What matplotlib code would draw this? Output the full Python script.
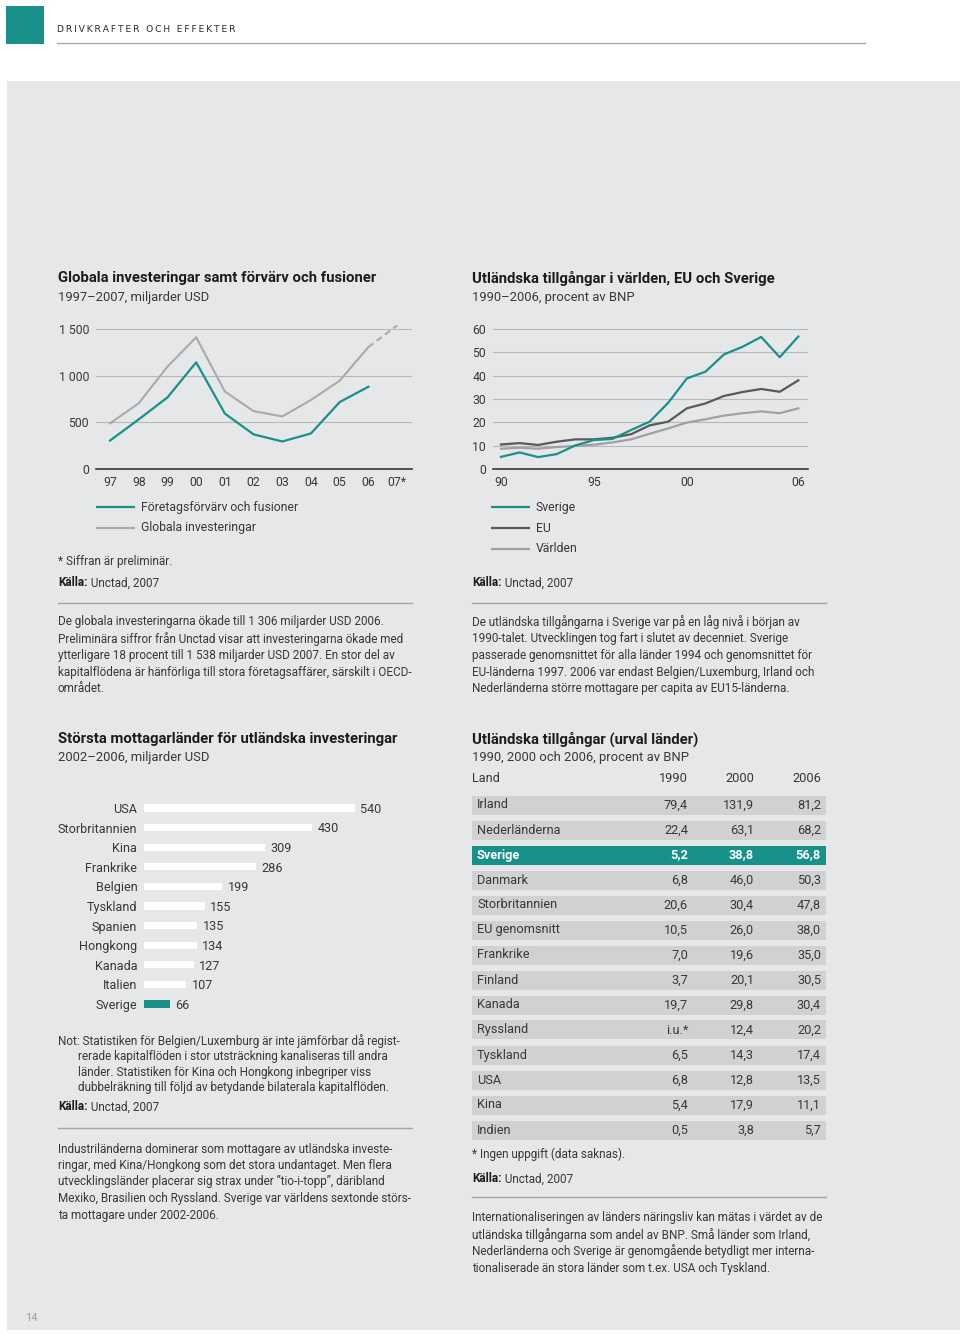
"""Page 14 - Drivkrafter och effekter: FDI charts and table."""
import matplotlib
matplotlib.use("Agg")
import matplotlib.pyplot as plt
from matplotlib.patches import Rectangle

W, H = 960, 1334
TEAL = "#18918a"
PANEL = "#e6e7e8"
STRIPE = "#d0d1d3"
GRID = "#b7b8ba"
AXIS = "#3a3a3a"
TXT = "#383838"
DARK = "#1c1c1c"
GRAY_L = "#a9aaac"
GRAY_EU = "#58595b"
GRAY_W = "#a0a1a3"
SEP = "#a3a4a6"

plt.rcParams["font.family"] = ["Roboto", "DejaVu Sans"]

BODY = 8.5
TICK = 8.8
LEG = 8.8
SUB = 9.4
TAB = 9.2
BARLAB = 9.1
TITLE = 10.7

# --- data -------------------------------------------------------------
fdi_years = ["97", "98", "99", "00", "01", "02", "03", "04", "05", "06", "07*"]
global_inv = [489, 705, 1097, 1411, 830, 620, 563, 740, 946, 1306]
global_inv_prelim = [1306, 1538]          # 06 -> 07* (preliminary)
mergers = [305, 532, 767, 1143, 594, 371, 295, 381, 717, 881]

asset_years = list(range(1990, 2007))
sverige = [5.2, 7.1, 5.1, 6.4, 10.1, 12.4, 12.9, 16.7, 20.3, 28.4, 38.8,
           41.7, 49.1, 52.4, 56.6, 47.9, 56.8]
eu = [10.5, 11.1, 10.3, 11.7, 12.7, 12.7, 13.4, 14.9, 18.7, 20.3, 26.0,
      28.1, 31.3, 33.0, 34.3, 33.1, 38.0]
varlden = [8.7, 9.1, 8.7, 9.4, 9.9, 10.4, 11.4, 12.7, 15.1, 17.4, 19.9,
           21.3, 22.9, 23.9, 24.7, 23.9, 26.0]

recv_countries = ["USA", "Storbritannien", "Kina", "Frankrike", "Belgien",
                  "Tyskland", "Spanien", "Hongkong", "Kanada", "Italien",
                  "Sverige"]
recv_values = [540, 430, 309, 286, 199, 155, 135, 134, 127, 107, 66]

tab_cols = ["1990", "2000", "2006"]
tab_countries = ["Irland", "Nederländerna", "Sverige", "Danmark",
                 "Storbritannien", "EU genomsnitt", "Frankrike", "Finland",
                 "Kanada", "Ryssland", "Tyskland", "USA", "Kina", "Indien"]
tab_1990 = ["79,4", "22,4", "5,2", "6,8", "20,6", "10,5", "7,0", "3,7",
            "19,7", "i.u.*", "6,5", "6,8", "5,4", "0,5"]
tab_2000 = ["131,9", "63,1", "38,8", "46,0", "30,4", "26,0", "19,6", "20,1",
            "29,8", "12,4", "14,3", "12,8", "17,9", "3,8"]
tab_2006 = ["81,2", "68,2", "56,8", "50,3", "47,8", "38,0", "35,0", "30,5",
            "30,4", "20,2", "17,4", "13,5", "11,1", "5,7"]

para_fdi = [
    "De globala investeringarna ökade till 1 306 miljarder USD 2006.",
    "Preliminära siffror från Unctad visar att investeringarna ökade med",
    "ytterligare 18 procent till 1 538 miljarder USD 2007. En stor del av",
    "kapitalflödena är hänförliga till stora företagsaffärer, särskilt i OECD-",
    "området.",
]
para_assets = [
    "De utländska tillgångarna i Sverige var på en låg nivå i början av",
    "1990-talet. Utvecklingen tog fart i slutet av decenniet. Sverige",
    "passerade genomsnittet för alla länder 1994 och genomsnittet för",
    "EU-länderna 1997. 2006 var endast Belgien/Luxemburg, Irland och",
    "Nederländerna större mottagare per capita av EU15-länderna.",
]
note_recv = [
    "rerade kapitalflöden i stor utsträckning kanaliseras till andra",
    "länder. Statistiken för Kina och Hongkong inbegriper viss",
    "dubbelräkning till följd av betydande bilaterala kapitalflöden.",
]
para_recv = [
    "Industriländerna dominerar som mottagare av utländska investe-",
    "ringar, med Kina/Hongkong som det stora undantaget. Men flera",
    "utvecklingsländer placerar sig strax under \u201dtio-i-topp\u201d, däribland",
    "Mexiko, Brasilien och Ryssland. Sverige var världens sextonde störs-",
    "ta mottagare under 2002-2006.",
]
para_table = [
    "Internationaliseringen av länders näringsliv kan mätas i värdet av de",
    "utländska tillgångarna som andel av BNP. Små länder som Irland,",
    "Nederländerna och Sverige är genomgående betydligt mer interna-",
    "tionaliserade än stora länder som t.ex. USA och Tyskland.",
]


def rect(l, t, r, b):
    return [l / W, 1 - b / H, (r - l) / W, (b - t) / H]


fig = plt.figure(figsize=(W / 100, H / 100), dpi=100)
pg = fig.add_axes([0, 0, 1, 1])
pg.set_xlim(0, W); pg.set_ylim(H, 0); pg.axis("off")


def txt(x, y, s, size=BODY, color=TXT, **kw):
    return pg.text(x, y, s, fontsize=size, color=color, va="center", **kw)


def kalla(x, y):
    t = txt(x, y, "Källa:", fontweight="bold", color=DARK)
    pg.annotate(" Unctad, 2007", xy=(1, 0), xycoords=t, va="bottom",
                fontsize=BODY, color=TXT)


def para(x, y0, lines, step=16.7):
    for i, s in enumerate(lines):
        txt(x, y0 + i * step, s)


def sep(x0, x1, y):
    pg.plot([x0, x1], [y, y], color=SEP, lw=1.0)


def legend_line(x, y, color, label):
    pg.plot([x, x + 39], [y, y], color=color, lw=1.6, solid_capstyle="butt")
    txt(x + 45, y, label, size=LEG)


# page furniture
pg.add_patch(Rectangle((7, 81), W - 7, 1249, color=PANEL, lw=0))
pg.add_patch(Rectangle((6, 6), 38, 38, color=TEAL, lw=0))
pg.plot([57, 865], [43, 43], color="#a9a9a9", lw=1.0)
pg.text(57, 30, "\u2009".join("DRIVKRAFTER OCH EFFEKTER"), fontsize=6.6,
        family=["DejaVu Sans"], color="#2a2a2a", va="center")
pg.text(25, 1318, "14", fontsize=8, color="#a0a0a0", va="center")

# titles
txt(58, 278, "Globala investeringar samt förvärv och fusioner", size=TITLE,
    fontweight="bold", color=DARK)
txt(58, 298, "1997\u20132007, miljarder USD", size=SUB)
txt(472, 278, "Utländska tillgångar i världen, EU och Sverige", size=TITLE,
    fontweight="bold", color=DARK)
txt(472, 298, "1990\u20132006, procent av BNP", size=SUB)
txt(58, 739, "Största mottagarländer för utländska investeringar", size=TITLE,
    fontweight="bold", color=DARK)
txt(58, 758, "2002\u20132006, miljarder USD", size=SUB)
txt(472, 739, "Utländska tillgångar (urval länder)", size=TITLE,
    fontweight="bold", color=DARK)
txt(472, 758, "1990, 2000 och 2006, procent av BNP", size=SUB)

# legends, notes, sources, paragraphs
legend_line(96, 507, TEAL, "Företagsförvärv och fusioner")
legend_line(96, 528, GRAY_L, "Globala investeringar")
txt(58, 562, "* Siffran är preliminär.")
kalla(58, 583)
sep(58, 412, 603)
para(58, 622, para_fdi)

legend_line(491, 507, TEAL, "Sverige")
legend_line(491, 528, GRAY_EU, "EU")
legend_line(491, 549, GRAY_W, "Världen")
kalla(472, 583)
sep(472, 826, 603)
para(472, 622, para_assets)

txt(58, 1041, "Not: Statistiken för Belgien/Luxemburg är inte jämförbar då regist-")
para(78, 1056.7, note_recv, step=15.6)
kalla(58, 1107)
sep(58, 412, 1128)
para(58, 1149, para_recv, step=16.5)

txt(472, 1154, "* Ingen uppgift (data saknas).")
kalla(472, 1179)
sep(472, 826, 1197)
para(472, 1218, para_table, step=16.7)


def style_line_axes(ax):
    ax.set_facecolor("none")
    for s in ["top", "right", "left"]:
        ax.spines[s].set_visible(False)
    ax.spines["bottom"].set_color(AXIS)
    ax.spines["bottom"].set_linewidth(1.2)
    ax.yaxis.grid(True, color=GRID, lw=0.8)
    ax.set_axisbelow(True)
    ax.tick_params(length=0, labelsize=TICK, labelcolor=TXT, pad=5)


# chart 1: global investments and M&A
ax1 = fig.add_axes(rect(96, 329, 412, 469))
x1 = list(range(len(fdi_years)))
ax1.plot(x1[:len(global_inv)], global_inv, color=GRAY_L, lw=1.5)
ax1.plot(x1[-2:], global_inv_prelim, color=GRAY_L, lw=1.5, ls=(0, (3, 2)),
         clip_on=False)
ax1.plot(x1[:len(mergers)], mergers, color=TEAL, lw=1.6)
ax1.set_xlim(-0.49, 10.52); ax1.set_ylim(0, 1500)
ax1.set_yticks([0, 500, 1000, 1500], ["0", "500", "1 000", "1 500"])
ax1.set_xticks(x1, fdi_years)
style_line_axes(ax1)

# chart 2: foreign assets, % of GDP
ax2 = fig.add_axes(rect(493, 329, 808, 469))
ax2.plot(asset_years, varlden, color=GRAY_W, lw=1.6)
ax2.plot(asset_years, eu, color=GRAY_EU, lw=1.6)
ax2.plot(asset_years, sverige, color=TEAL, lw=1.6)
ax2.set_xlim(1989.57, 2006.52); ax2.set_ylim(0, 60)
ax2.set_yticks(range(0, 61, 10))
ax2.set_xticks([1990, 1995, 2000, 2006], ["90", "95", "00", "06"])
style_line_axes(ax2)

# chart 3: largest recipients
axb = fig.add_axes(rect(144.3, 798.2, 144.3 + 234, 1013.8))
yb = list(range(len(recv_countries)))
bar_colors = ["white"] * (len(yb) - 1) + [TEAL]
axb.barh(yb, recv_values, height=0.36, color=bar_colors)
for y, v in zip(yb, recv_values):
    axb.annotate(str(v), (v, y), xytext=(4, -1), textcoords="offset points",
                 va="center", fontsize=BARLAB, color=TXT)
axb.set_xlim(0, 600); axb.set_ylim(len(yb) - 0.5, -0.5)
axb.set_yticks(yb, recv_countries)
axb.set_xticks([])
axb.tick_params(length=0, labelsize=BARLAB, labelcolor=TXT, pad=5)
axb.set_facecolor("none")
for s in axb.spines.values():
    s.set_visible(False)

# table: foreign assets, selected countries
col_x = [688, 754, 821]
txt(472, 779, "Land", size=TAB)
for cx, c in zip(col_x, tab_cols):
    txt(cx, 779, c, size=TAB, ha="right")
axt = fig.add_axes(rect(472, 792.5, 826, 1142.5))
axt.set_xlim(472, 826); axt.set_ylim(len(tab_countries) - 0.5, -0.5)
axt.axis("off")
for i, name in enumerate(tab_countries):
    hl = name == "Sverige"
    axt.add_patch(Rectangle((472, i - 0.38), 354, 0.76, lw=0,
                            color=TEAL if hl else STRIPE))
    kw = dict(fontsize=TAB, va="center",
              color="white" if hl else TXT,
              fontweight="bold" if hl else "normal")
    axt.text(477, i, name, **kw)
    for cx, vals in zip(col_x, [tab_1990, tab_2000, tab_2006]):
        axt.text(cx, i, vals[i], ha="right", **kw)

fig.savefig("out.png", dpi=100)
